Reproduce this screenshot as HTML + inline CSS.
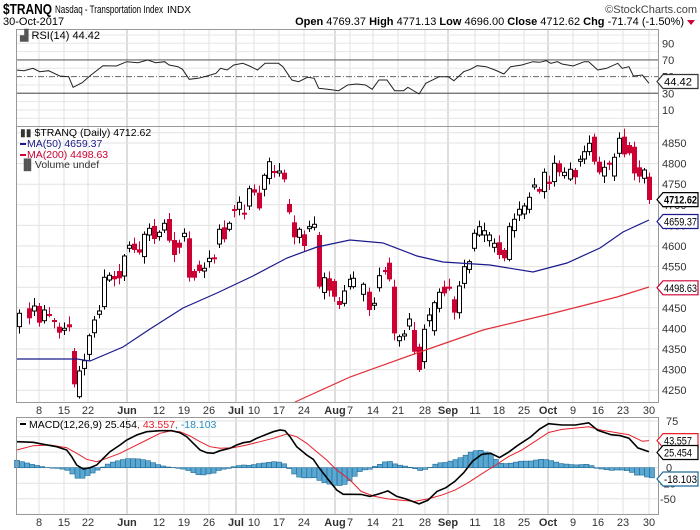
<!DOCTYPE html>
<html><head><meta charset="utf-8"><style>
body{margin:0;background:#fff;}
svg{display:block;font-family:"Liberation Sans",sans-serif;}
</style></head><body>
<svg id="s" width="700" height="530" viewBox="0 0 700 530" xmlns="http://www.w3.org/2000/svg"></svg>
<script>
var S=document.getElementById('s'),h='';
var L=16,R=658;
function yp(p){return 143+(4850-p)*0.412;}
function yr(v){return 43.3+(90-v)*0.833;}
function ym(v){return 467.7-0.622*v;}
function ln(x1,y1,x2,y2,c,w,d){h+='<line x1="'+x1+'" y1="'+y1+'" x2="'+x2+'" y2="'+y2+'" stroke="'+c+'" stroke-width="'+(w||1)+'"'+(d?' stroke-dasharray="'+d+'"':'')+'/>';}
function tx(x,y,t,o){h+='<text x="'+x+'" y="'+y+'" '+(o||'')+'>'+t+'</text>';}
function pl(pts,c,w){h+='<polyline fill="none" stroke="'+c+'" stroke-width="'+(w||1)+'" points="'+pts.map(function(p){return p[0].toFixed(1)+','+p[1].toFixed(1)}).join(' ')+'"/>';}
// header
tx(3,14,'$TRANQ','font-size="15" font-weight="bold" textLength="49" lengthAdjust="spacingAndGlyphs"');
tx(55,13,'Nasdaq - Transportation Index','font-size="11" textLength="108" lengthAdjust="spacingAndGlyphs"');
tx(167,13,'INDX','font-size="10"');
tx(697,13,'©StockCharts.com','font-size="11" text-anchor="end" fill="#444"');
tx(3,25,'30-Oct-2017','font-size="11"');
tx(684,25,'<tspan font-weight="bold">Open</tspan> 4769.37 <tspan font-weight="bold">High</tspan> 4771.13 <tspan font-weight="bold">Low</tspan> 4696.00 <tspan font-weight="bold">Close</tspan> 4712.62 <tspan font-weight="bold">Chg</tspan> -71.74 (-1.50%)','font-size="11" text-anchor="end"');
h+='<path d="M687,20 L695,20 L691,25 Z" fill="#cc0033"/>';
// x labels
var XL=[[39,'8'],[64,'15'],[88,'22'],[127,'Jun',1],[159,'12'],[184,'19'],[209,'26'],[236,'Jul',1],[254,'10'],[279,'17'],[304,'24'],[335,'Aug',1],[350,'7'],[373,'14'],[398,'21'],[425,'28'],[448,'Sep',1],[475,'11'],[499,'18'],[524,'25'],[548,'Oct',1],[573,'9'],[598,'16'],[623,'23'],[649,'30']];
var P=[[29,126],[126,402],[417,514]];
P.forEach(function(pn){XL.forEach(function(l){ln(l[0],pn[0],l[0],pn[1],l[2]?'#bbb':'#e2e2e2');});});
for(var v=0;v<=100;v+=10){if(v!=30&&v!=70&&v!=50)ln(L,yr(v),R,yr(v),'#e6e6e6');}
for(var p=4250;p<=4850;p+=50)ln(L,yp(p),R,yp(p),'#e2e2e2');
ln(L,yp(4875),R,yp(4875),'#e2e2e2');
[-75,-50,-25,0,25,50,75].forEach(function(v){ln(L,ym(v),R,ym(v),'#e2e2e2');});
ln(L,yr(70),R,yr(70),'#666',1.2);ln(L,yr(30),R,yr(30),'#666',1.2);ln(L,yr(50),R,yr(50),'#666',1,'6,2,1,2');
[90,70,30,10].forEach(function(v){tx(662,yr(v)+4,v,'font-size="11" fill="#333"');});
tx(662,yr(50)+4,'50','font-size="11" fill="#333"');
[4850,4800,4750,4700,4650,4600,4550,4450,4400,4350,4300,4250].forEach(function(p){tx(662,yp(p)+4,p,'font-size="11" fill="#333"');});
[[75,'75'],[50,'50'],[0,'0'],[-25,'-25'],[-50,'-50']].forEach(function(a){tx(a[0]<0?660:666,ym(a[0])+4,a[1],'font-size="11" fill="#333"');});
XL.forEach(function(l){var o='font-size="11" text-anchor="middle" fill="#333"'+(l[2]?' font-weight="bold"':'');tx(l[0],414,l[1],o);tx(l[0],526,l[1],o);});
// RSI line
var rz=[[37,210],[55,212],[75,205],[90,215],[110,212],[135,228],[155,230],[165,262],[185,248],[205,225],[232,197],[262,198],[285,185],[310,188],[332,180],[350,188],[370,185],[380,195],[400,200],[410,208],[425,238],[445,235],[465,228],[485,220],[495,205],[510,210],[525,195],[545,190],[560,198],[578,210],[595,190],[625,190],[635,200],[655,240],[670,245],[690,232],[705,235],[715,265],[735,268],[760,272],[780,255],[800,252],[820,255],[835,268],[850,240],[868,240],[885,272],[905,272],[915,262],[940,282],[955,250],[985,230],[1005,230],[1018,242],[1040,215],[1055,208],[1070,197],[1090,200],[1110,210],[1130,222],[1145,200],[1170,195],[1195,185],[1210,187],[1225,182],[1235,190],[1250,185],[1260,192],[1285,198],[1310,185],[1320,185],[1340,210],[1360,205],[1385,190],[1395,205],[1410,200],[1420,228],[1440,225],[1455,250]];
pl(rz.map(function(a){return [16+(a[0]-37)*(633/1418),a[1]/3];}),'#222',1);
// candles
function cd(x,yt,yb,c,seed){var r1=((seed*37)%7)+2,r2=((seed*53)%6)+2;var xc=Math.round(x)+0.5;
 ln(xc,yt-r1,xc,yb+r2,c=='w'?'#000':'#cc0033',1);
 var hh=Math.max(yb-yt,2);
 if(c=='w')h+='<rect x="'+(xc-2)+'" y="'+yt.toFixed(1)+'" width="4" height="'+hh.toFixed(1)+'" fill="#fff" stroke="#000" stroke-width="1"/>';
 else h+='<rect x="'+(xc-2.5)+'" y="'+yt.toFixed(1)+'" width="5" height="'+hh.toFixed(1)+'" fill="#cc0033"/>';}
var z3=[[57,430,470,'w'],[88,415,445,'r'],[103,408,423,'w'],[118,408,458,'r'],[133,420,452,'w'],[148,432,436,'r'],[163,450,454,'r'],[178,470,488,'r'],[193,475,480,'w'],[208,463,472,'r'],[223,543,643,'r'],[238,603,680,'w'],[253,572,595,'w'],[268,497,553,'w'],[283,450,488,'w'],[298,423,433,'w'],[313,322,410,'w'],[328,316,330,'w'],[343,318,328,'r'],[358,303,325,'r'],[373,258,318,'w'],[388,226,235,'w'],[403,221,240,'r'],[418,238,248,'r'],[433,193,260,'w'],[448,175,195,'w'],[463,168,207,'r'],[478,187,200,'w'],[493,160,180,'w'],[508,147,212,'r'],[523,210,255,'r'],[538,218,233,'r'],[553,190,200,'w'],[568,205,323,'r'],[583,303,323,'r'],[598,284,303,'r'],[613,295,303,'w'],[628,265,275,'w'],[643,262,266,'r'],[658,178,222,'w'],[673,172,208,'r'],[688,160,178,'w'],[703,117,121,'r'],[718,97,118,'w'],[733,128,133,'r'],[748,56,108,'w'],[763,58,68,'r'],[778,68,115,'r'],[793,16,58,'w'],[808,-25,25,'w'],[823,3,8,'r'],[838,3,8,'w'],[853,8,28,'r'],[868,102,127,'r'],[883,157,202,'r'],[898,178,202,'w'],[913,193,228,'r'],[928,170,174,'w'],[943,163,172,'w'],[958,195,350,'r'],[973,323,367,'w'],[988,325,362,'r'],[1003,333,380,'r'],[1018,393,405,'r'],[1033,363,400,'w']];
z3.forEach(function(a,i){cd(a[0]/3,170+a[1]/3,170+a[2]/3,a[3],i+1);});
var z4=[[0,478,500,'w'],[10,475,500,'w'],[40,493,523,'w'],[58,515,570,'r'],[72,550,555,'w'],[88,467,503,'w'],[105,450,455,'r'],[118,428,478,'r'],[132,500,640,'r'],[148,650,662,'w'],[163,642,646,'w'],[178,597,618,'w'],[193,630,695,'r'],[208,680,750,'r'],[223,628,725,'w'],[238,585,602,'w'],[253,548,632,'w'],[268,517,565,'w'],[283,500,520,'r'],[298,500,506,'r'],[313,538,578,'r'],[328,498,578,'w'],[343,440,490,'w'],[358,425,448,'w'],[373,340,385,'w'],[388,320,345,'w'],[403,332,345,'w'],[418,345,362,'w'],[433,370,382,'w'],[448,367,405,'r'],[463,390,415,'r'],[478,320,418,'w'],[493,298,332,'w'],[508,268,285,'w'],[522,258,282,'w'],[538,232,268,'w'],[553,195,200,'w'],[568,207,215,'r'],[583,157,215,'w'],[598,185,192,'r'],[613,130,185,'w'],[628,130,157,'r'],[643,157,167,'w'],[660,148,177,'w'],[675,150,172,'r'],[690,118,122,'w'],[703,95,117,'w'],[718,70,95,'w'],[733,50,125,'r'],[748,125,157,'r'],[763,142,168,'w'],[778,128,132,'r'],[793,112,168,'w'],[808,55,100,'w'],[823,50,103,'r'],[838,75,100,'r'],[853,80,160,'r'],[868,142,170,'r'],[883,150,175,'w'],[898,170,240,'r']];
z4.forEach(function(a,i){cd(350+a[0]/3,120+a[1]/3,120+a[2]/3,a[3],i+5);});
// MAs
var ma50=[[16,359],[77,359],[90,361],[123,347],[150,329],[183,308],[217,293],[253,276],[287,258],[317,247],[350,240],[383,243],[417,256],[443,262],[490,265],[533,272],[567,263],[600,248],[623,232],[649,220]];
pl(ma50,'#1a1a8c',1.2);
var ma200=[[295,402],[350,377],[417,353],[483,330],[550,314],[617,297],[649,287]];
pl(ma200,'#e0303a',1.2);
// MACD
function zy6(zy){return 400+zy/3;}
function z2y(zy){return zy<205?467.7-(205-zy)*0.44:467.7+(zy-205)*0.25;}
var mb=[[50,125],[100,127],[130,133],[170,140],[200,150],[215,170],[230,195],[250,207],[270,203],[290,195],[310,175],[330,155],[360,135],[380,120],[410,105],[440,95],[480,92],[515,92],[540,98],[560,110],[580,130],[600,150],[620,158],[640,160],[660,152],[690,145],[710,135],[730,128],[750,125],[770,115],[800,103],[820,95],[840,90],[855,92],[870,110],[890,140],[920,165],[940,178],[955,200],[970,220],[990,245],[1010,270],[1030,283],[1050,283]].map(function(a){return [a[0]/3,zy6(a[1])];});
var mb2=[[810,312],[830,320],[850,310],[870,298],[890,320],[910,330],[925,340],[940,350],[960,335],[980,300],[1000,285],[1020,260],[1040,225],[1060,190],[1080,175],[1100,172],[1120,182],[1140,170],[1160,155],[1190,135],[1210,117],[1230,105],[1260,108],[1290,108],[1320,103],[1340,120],[1370,130],[1390,132],[1410,138],[1430,160]].map(function(a){return [16+(a[0]-37)*(633/1418),z2y(a[1])];}).filter(function(p){return p[0]>352;});
mb=mb.concat(mb2);mb.push([649,451.8]);
var ms=[[50,150],[100,137],[150,135],[200,143],[230,160],[260,178],[290,185],[320,175],[360,160],[400,140],[440,120],[480,100],[510,93],[540,95],[570,108],[600,125],[630,140],[660,145],[700,143],[740,135],[780,125],[820,115],[860,102],[890,110],[920,130],[950,155],[980,180],[1010,210],[1040,232],[1050,240]].map(function(a){return [a[0]/3,zy6(a[1])];});
var ms2=[[810,300],[840,320],[870,330],[900,335],[930,340],[960,330],[990,315],[1020,295],[1050,265],[1080,230],[1110,200],[1140,180],[1170,165],[1200,145],[1230,125],[1260,118],[1290,115],[1320,112],[1350,120],[1380,125],[1410,130],[1440,145]].map(function(a){return [16+(a[0]-37)*(633/1418),z2y(a[1])];}).filter(function(p){return p[0]>352;});
ms=ms.concat(ms2);ms.push([649,440.6]);
function interp(arr,x){if(x<=arr[0][0])return arr[0][1];for(var i=1;i<arr.length;i++){if(x<=arr[i][0]){var t=(x-arr[i-1][0])/(arr[i][0]-arr[i-1][0]);return arr[i-1][1]+t*(arr[i][1]-arr[i-1][1]);}}return arr[arr.length-1][1];}
var z0=ym(0);
for(var i=0;i<127;i++){var x=17+i*5.04;var d=(interp(ms,x)-interp(mb,x))*0.9;var yv=z0-d;
 var y1=Math.min(z0,yv),hh=Math.abs(z0-yv);
 h+='<rect x="'+(x-2.5).toFixed(1)+'" y="'+y1.toFixed(1)+'" width="5" height="'+hh.toFixed(1)+'" fill="#5aa8d2" stroke="#1f6a96" stroke-width="0.6"/>';}
pl(ms,'#e8202a',1);
pl(mb,'#000',1.6);
P.forEach(function(pn){h+='<rect x="'+L+'.5" y="'+pn[0]+'.5" width="'+(R-L)+'" height="'+(pn[1]-pn[0])+'" fill="none" stroke="#999"/>';});
// legends
tx(20,39,'<tspan fill="#555">▟</tspan> RSI(14) 44.42','font-size="11"');
tx(20,136,'<tspan fill="#333">▮▮</tspan> $TRANQ (Daily) 4712.62','font-size="10.5"');
ln(20,144,26,144,'#1a1a8c',2);tx(27,147,'MA(50) 4659.37','font-size="10.5" fill="#1a1a8c"');
ln(20,155,26,155,'#cc0033',2);tx(27,158,'MA(200) 4498.63','font-size="10.5" fill="#cc0033"');
tx(20,168,'<tspan fill="#555">▐▌</tspan>Volume undef','font-size="10.5" fill="#333"');
ln(20,424,26,424,'#000',2);tx(29,428,'MACD(12,26,9) 25.454<tspan fill="#e8202a">, 43.557</tspan><tspan fill="#2a8cc0">, -18.103</tspan>','font-size="10.5"');
// tags
function tag(y,t,c,b){h+='<path d="M657,'+y+' L663,'+(y-7)+' L698,'+(y-7)+' L698,'+(y+7)+' L663,'+(y+7)+' Z" fill="#fff" stroke="'+c+'" stroke-width="1.2"/>';tx(664,y+4,t,'font-size="11" textLength="'+(t.length>6?33:28)+'" lengthAdjust="spacingAndGlyphs"'+(b?' font-weight="bold"':''));}
tag(81.5,'44.42','#333');
tag(199.6,'4712.62','#000',1);
tag(221.5,'4659.37','#1a1a8c');
tag(287.8,'4498.63','#cc0033');
tag(440.6,'43.557','#e8202a');
tag(452.5,'25.454','#000');
tag(479,'-18.103','#1f6a96');
S.innerHTML=h;
</script>
</body></html>
